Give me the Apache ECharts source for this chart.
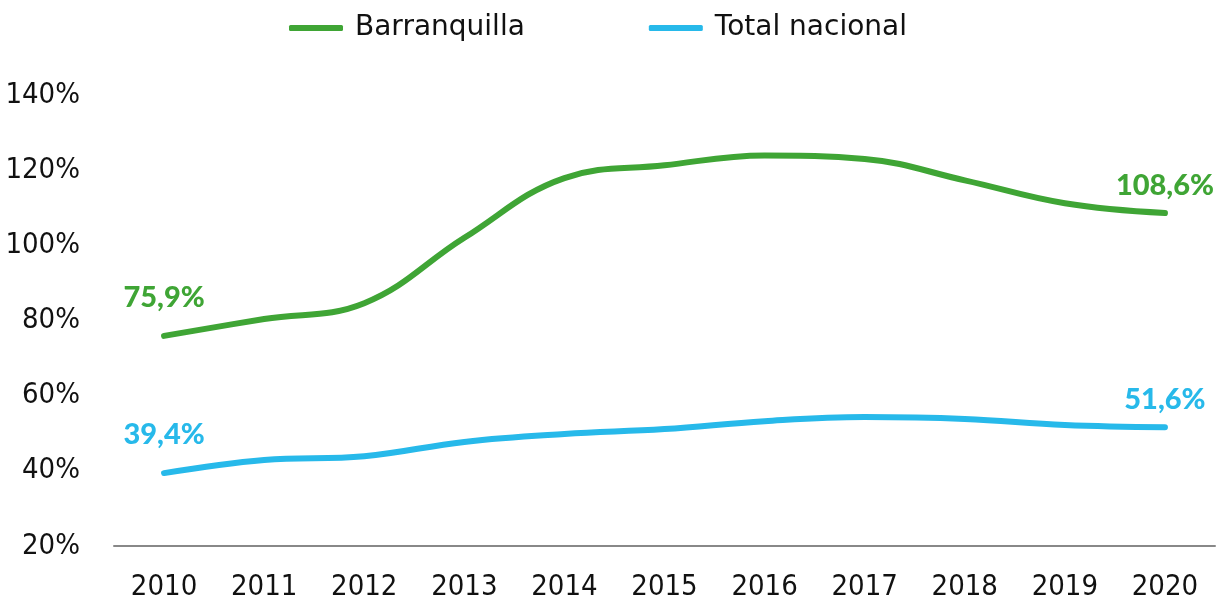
<!DOCTYPE html>
<html>
<head>
<meta charset="utf-8">
<script src="https://cdn.jsdelivr.net/npm/echarts@6/dist/echarts.min.js"></script>
<style>
html, body { margin: 0; padding: 0; background: #fff; }
#chart { width: 1228px; height: 604px; }
</style>
</head>
<body>
<div id="chart"></div>
<script>
var years = ['2010','2011','2012','2013','2014','2015','2016','2017','2018','2019','2020'];
var barranquilla = [75.9, 80.4, 84.6, 102.0, 117.9, 121.3, 123.9, 123.0, 117.3, 111.2, 108.6];
var nacional = [39.4, 42.9, 43.9, 47.7, 49.8, 51.1, 53.2, 54.3, 53.8, 52.2, 51.6];
var seriesNames = ['Barranquilla', 'Total nacional'];
var colors = ['#3fa535', '#27b9ea'];

function fmt(v) {
	return v.toFixed(1).replace('.', ',') + '%';
}

// solo primer y ultimo punto llevan etiqueta
function withLabels(values, color) {
	var last = values.length - 1;
	return values.map(function(v, i) {
		if (i != 0 && i != last) return v;
		return {
			value: v,
			label: {
				show: true,
				position: 'top',
				distance: i == 0 ? 24 : 13,
				color: color,
				fontFamily: 'Lato',
				fontWeight: 900,
				fontSize: 29,
				formatter: function(p) { return fmt(p.value); }
			}
		};
	});
}

var chart = echarts.init(document.getElementById('chart'));
chart.setOption({
	animation: false,
	legend: {
		top: 9,
		left: 284,
		itemGap: 124,
		itemWidth: 54,
		itemHeight: 6,
		icon: 'roundRect',
		textStyle: { fontSize: 28, fontFamily: 'DejaVu Sans', color: '#111', padding: [0, 0, 0, 7] },
		data: seriesNames
	},
	grid: { left: 114, right: 13, top: 95, bottom: 58 },
	xAxis: {
		type: 'category',
		data: years,
		boundaryGap: true,
		axisLine: { lineStyle: { color: '#888', width: 2 } },
		axisTick: { show: false },
		axisLabel: { fontSize: 29, fontFamily: 'DejaVu Sans Condensed', color: '#111', margin: 27 }
	},
	yAxis: {
		type: 'value',
		min: 20,
		max: 140,
		interval: 20,
		splitLine: { show: false },
		axisLabel: {
			fontSize: 29,
			fontFamily: 'DejaVu Sans Condensed',
			color: '#111',
			margin: 34,
			formatter: '{value}%'
		}
	},
	series: [
		{
			name: seriesNames[0],
			type: 'line',
			smooth: 0.4,
			data: withLabels(barranquilla, colors[0]),
			symbol: 'circle',
			symbolSize: 0,
			showSymbol: true,
			color: colors[0],
			lineStyle: { width: 6, cap: 'round' }
		},
		{
			name: seriesNames[1],
			type: 'line',
			smooth: 0.4,
			data: withLabels(nacional, colors[1]),
			symbol: 'circle',
			symbolSize: 0,
			showSymbol: true,
			color: colors[1],
			lineStyle: { width: 6, cap: 'round' }
		}
	]
});
</script>
</body>
</html>
